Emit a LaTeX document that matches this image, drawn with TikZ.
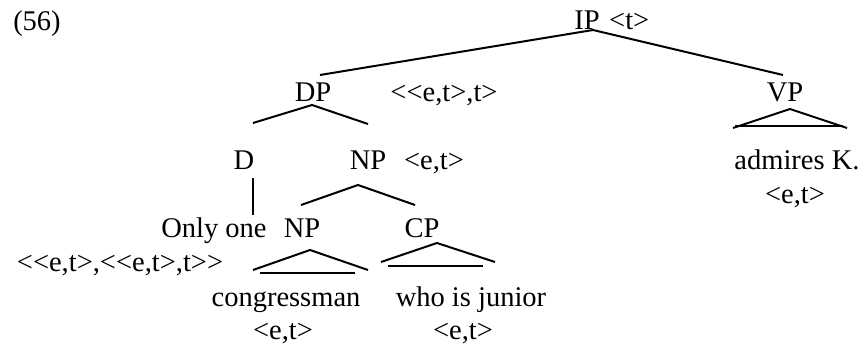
\documentclass[tikz,border=0pt]{standalone}
\usepackage{fontspec}
\setmainfont{Liberation Serif}[Ligatures=TeXOff]
\begin{document}
\begin{tikzpicture}[x=1pt,y=-1pt,
  lbl/.style={anchor=base,inner sep=0pt,font=\fontsize{28.5}{32}\selectfont},
  branch/.style={line width=2pt},
  tribase/.style={line width=2.4pt}]
\useasboundingbox (0,0) rectangle (868,347);
% labels
\node[lbl] (ex) at (37,31) {(56)};
\node[lbl] (ip) at (587,30) {IP};
\node[lbl,anchor=base west] (ipt) at (609,30) {<t>};
\node[lbl] (dp) at (313,102) {DP};
\node[lbl] (dpt) at (444,102) {<<e,t>,t>};
\node[lbl] (vp) at (785,102) {VP};
\node[lbl] (d) at (244,170) {D};
\node[lbl] (npa) at (368,170) {NP};
\node[lbl] (npat) at (434,170) {<e,t>};
\node[lbl] (adm) at (797,170) {admires K.};
\node[lbl] (admt) at (795,204) {<e,t>};
\node[lbl] (only) at (214,238) {Only one};
\node[lbl] (npb) at (302,238) {NP};
\node[lbl] (cp) at (422,238) {CP};
\node[lbl] (dt) at (120,272) {<<e,t>,<<e,t>,t>>};
\node[lbl] (cong) at (286,307) {congressman};
\node[lbl] (congt) at (283,340) {<e,t>};
\node[lbl] (who) at (471,307) {who is junior};
\node[lbl] (whot) at (463,340) {<e,t>};
% branch points
\coordinate (ipB) at (593,30);
\coordinate (dpT) at (320,75);
\coordinate (vpT) at (783,75);
\coordinate (dpB) at (312,105);
\coordinate (dL) at (253,123);
\coordinate (dR) at (368,124);
\coordinate (dT) at (253,178);
\coordinate (onlyT) at (253,215);
\coordinate (npaB) at (358,185);
\coordinate (npaL) at (301,205);
\coordinate (npaR) at (415,205);
\coordinate (vpB) at (790,109);
\coordinate (vpL) at (733,128);
\coordinate (vpR) at (847,128);
\coordinate (npbB) at (310,250);
\coordinate (npbL) at (253,270);
\coordinate (npbR) at (368,270);
\coordinate (cpB) at (437,243);
\coordinate (cpL) at (381,262);
\coordinate (cpR) at (495,262);
% lines
\draw[branch] (dpT) -- (ipB) -- (vpT);
\draw[branch] (dL) -- (dpB) -- (dR);
\draw[branch] (dT) -- (onlyT);
\draw[branch] (npaL) -- (npaB) -- (npaR);
\draw[branch] (vpL) -- (vpB) -- (vpR);
\draw[tribase] (735,126) -- (843,126);
\draw[branch] (npbL) -- (npbB) -- (npbR);
\draw[tribase] (260,273) -- (355,273);
\draw[branch] (cpL) -- (cpB) -- (cpR);
\draw[tribase] (388,266) -- (483,266);
\end{tikzpicture}
\end{document}
